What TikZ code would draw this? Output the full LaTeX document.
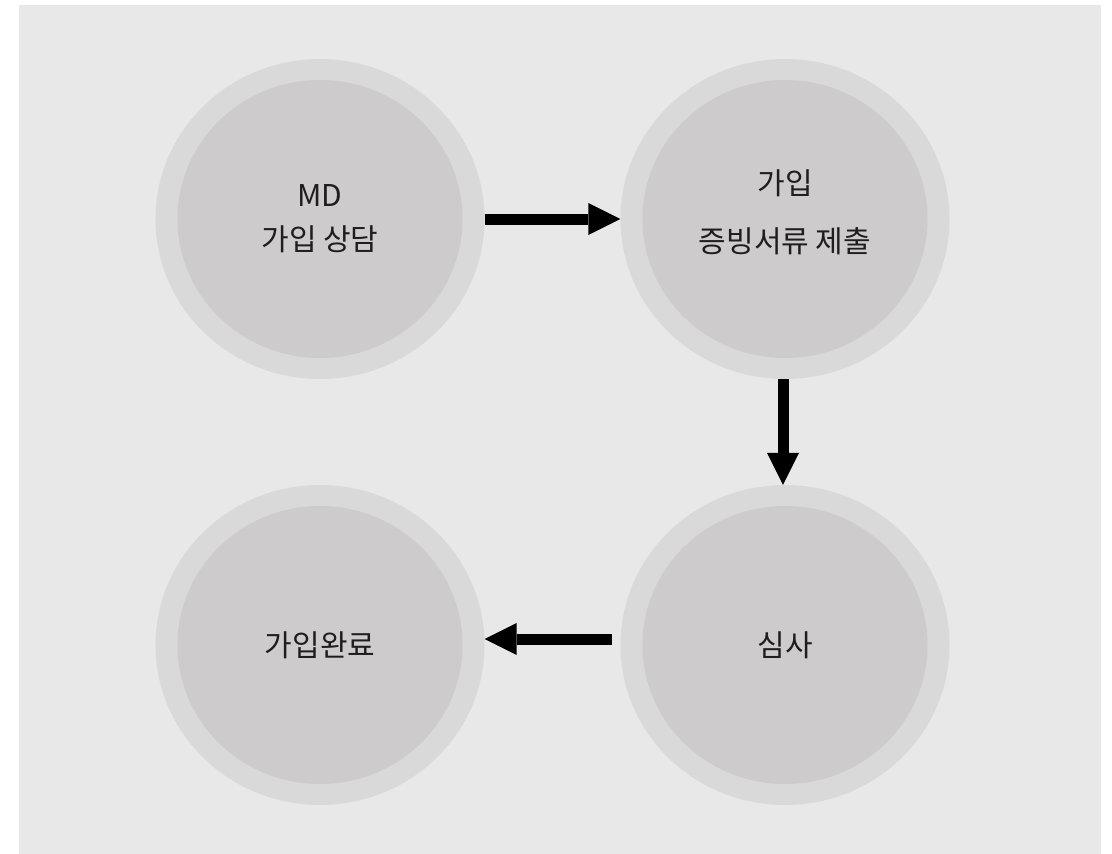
\documentclass[tikz,border=0pt]{standalone}
\usepackage{fontspec}
\setmainfont{Noto Sans CJK KR}
\usetikzlibrary{shapes.geometric,arrows.meta}
\definecolor{bg}{RGB}{232,232,232}
\definecolor{ring}{RGB}{217,217,217}
\definecolor{core}{RGB}{205,203,204}
\definecolor{ink}{RGB}{30,30,30}
\begin{document}
\begin{tikzpicture}[x=1pt,y=-1pt,
 outer/.style={ellipse,fill=ring,minimum width=329pt,minimum height=320pt,inner sep=0pt},
 inner/.style={ellipse,fill=core,minimum width=285pt,minimum height=278pt,inner sep=0pt,align=center,text=ink,font=\fontsize{30}{44}\selectfont},
 flow/.style={line width=11pt,-{Triangle[length=32pt,width=32pt,line width=0pt]}}]
\useasboundingbox (0,0) rectangle (1112,854);
\fill[white] (0,0) rectangle (1112,854);
\fill[bg] (19,5) rectangle (1101,854);
\node[outer] (o1) at (320,219) {};
\node[inner] (c1) at (320,219) {MD\\가입 상담};
\node[outer] (o2) at (785,219) {};
\node[inner] (c2) at (785,219) {};
\node[align=center,text=ink,font=\fontsize{30}{44}\selectfont] (t2) at (785,212) {가입\\[14pt]증빙서류 제출};
\node[outer] (o3) at (785,645) {};
\node[inner] (c3) at (785,645) {심사};
\node[outer] (o4) at (320,645) {};
\node[inner] (c4) at (320,645) {가입완료};
\draw[flow] (o1.east) -- (o2.west);
\draw[flow] ([xshift=-2pt]o2.south) -- ([xshift=-2pt]o3.north);
\draw[flow] ([xshift=-8pt,yshift=6pt]o3.west) -- ([yshift=6pt]o4.east);
\end{tikzpicture}
\end{document}
